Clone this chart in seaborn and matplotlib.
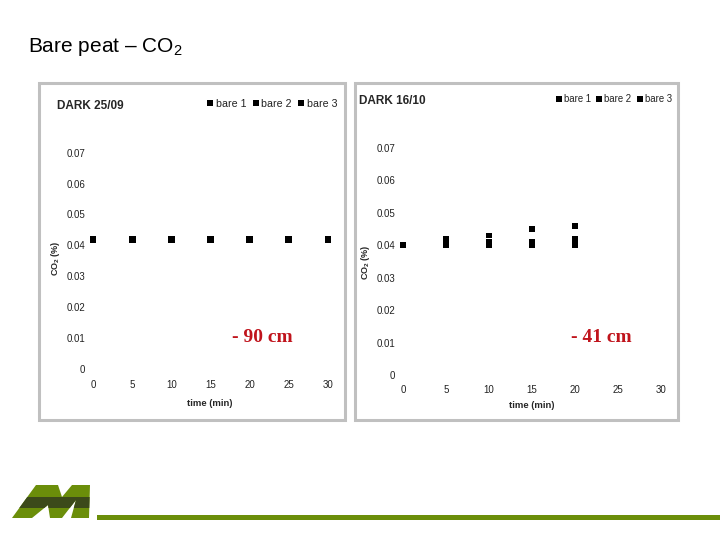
import pandas as pd
import matplotlib.pyplot as plt
import seaborn as sns
from matplotlib.patches import Rectangle, Polygon

sns.set_theme(style="white")
plt.rcParams['font.family'] = ['Liberation Sans', 'DejaVu Sans']
plt.rcParams['mathtext.fontset'] = 'custom'
plt.rcParams['mathtext.rm'] = 'Liberation Sans'

# data
series = ["bare 1", "bare 2", "bare 3"]

t_2509 = [0, 5, 10, 15, 20, 25, 30]
bare1_2509 = [0.042, 0.042, 0.042, 0.042, 0.042, 0.042, 0.042]
bare2_2509 = [0.042, 0.042, 0.042, 0.042, 0.042, 0.042, 0.042]
bare3_2509 = [0.042, 0.042, 0.042, 0.042, 0.042, 0.042, 0.042]

t_1610 = [0, 5, 10, 15, 20]
bare1_1610 = [0.040, 0.040, 0.040, 0.040, 0.040]
bare2_1610 = [0.040, 0.040, 0.041, 0.041, 0.042]
bare3_1610 = [0.040, 0.042, 0.043, 0.045, 0.046]

x_ticks = [0, 5, 10, 15, 20, 25, 30]
y_ticks = [0, 0.01, 0.02, 0.03, 0.04, 0.05, 0.06, 0.07]
y_labels = ["0", "0.01", "0.02", "0.03", "0.04", "0.05", "0.06", "0.07"]


def long_df(t, b1, b2, b3):
    rows = []
    for name, vals in zip(series, [b1, b2, b3]):
        for x, y in zip(t, vals):
            rows.append({"time": x, "co2": y, "series": name})
    return pd.DataFrame(rows)


W, H = 720, 540
fig = plt.figure(figsize=(7.2, 5.4), dpi=100)


def box(x0, y0, x1, y1):
    # pixel box (top-left origin) -> figure fraction rect
    return [x0 / W, 1 - y1 / H, (x1 - x0) / W, (y1 - y0) / H]


def fx(x):
    return x / W


def fy(y):
    return 1 - y / H


# slide title
fig.text(fx(28), fy(47), r"Bare peat – $\mathregular{CO_2}$", fontsize=15,
         va="center", ha="left", color="black")

# panel frames (behind the axes)
for (x0, y0, x1, y1) in [(39, 83, 345, 420), (355, 83, 678, 420)]:
    fig.patches.append(Rectangle((fx(x0), fy(y1)), (x1 - x0) / W, (y1 - y0) / H,
                                 transform=fig.transFigure, facecolor="white",
                                 edgecolor="#c0c0c0", lw=2.2, zorder=-1))

panels = [
    dict(df=long_df(t_2509, bare1_2509, bare2_2509, bare3_2509),
         rect=box(93, 152.7, 328, 369), title="DARK 25/09", tpos=(57, 106),
         leg=(204, 104), depth="- 90 cm", dpos=(262, 338), s=24, ylab=(55, 258),
         xlab=(210, 403), xpad=8, ypad=5.5, legfs=7.7),
    dict(df=long_df(t_1610, bare1_1610, bare2_1610, bare3_1610),
         rect=box(403, 148, 661, 375), title="DARK 16/10", tpos=(359, 101),
         leg=(553, 99), depth="- 41 cm", dpos=(601, 338), s=17, ylab=(365, 262),
         xlab=(532, 405), xpad=7, ypad=5.5, legfs=6.9),
]

for p in panels:
    ax = fig.add_axes(p["rect"])
    ax.patch.set_alpha(0)
    sns.scatterplot(data=p["df"], x="time", y="co2", hue="series",
                    palette=["black"] * 3, marker="s", s=p["s"], linewidth=0,
                    ax=ax, clip_on=False)
    ax.set_xlim(0, 30)
    ax.set_ylim(0, 0.07)
    ax.set_xticks(x_ticks)
    ax.set_xticklabels([str(v) for v in x_ticks])
    ax.set_yticks(y_ticks)
    ax.set_yticklabels(y_labels)
    ax.tick_params(axis="x", length=0, pad=p["xpad"], labelsize=7, colors="#222222")
    ax.tick_params(axis="y", length=0, pad=p["ypad"], labelsize=7, colors="#222222")
    for sp in ax.spines.values():
        sp.set_visible(False)
    ax.set_xlabel("")
    ax.set_ylabel("")

    handles, labels = ax.get_legend_handles_labels()
    for h in handles:
        h.set_markersize(4.5)
    ax.legend(handles, labels, ncol=3, frameon=False, fontsize=p["legfs"],
              loc="center left", bbox_to_anchor=(fx(p["leg"][0]), fy(p["leg"][1])),
              bbox_transform=fig.transFigure, handletextpad=-0.1,
              columnspacing=0.3, handlelength=1.2, borderaxespad=0, borderpad=0,
              labelcolor="#222222")

    fig.text(fx(p["tpos"][0]), fy(p["tpos"][1]), p["title"], fontsize=8.5,
             fontweight="bold", ha="left", va="center")
    fig.text(fx(p["ylab"][0]), fy(p["ylab"][1]), r"$\mathregular{CO_2}$ (%)",
             fontsize=6.5, fontweight="bold", rotation=90, ha="center", va="center")
    fig.text(fx(p["xlab"][0]), fy(p["xlab"][1]), "time (min)", fontsize=6.8,
             fontweight="bold", ha="center", va="center")
    fig.text(fx(p["dpos"][0]), fy(p["dpos"][1]), p["depth"], fontsize=14,
             fontweight="bold", family="Liberation Serif", color="#c0141c",
             ha="center", va="center")

# footer logo and rule
light, dark = "#6b8e0a", "#3c4a1a"
m_shape = [(12, 518), (36, 485), (58, 485), (62, 497), (72, 485), (90, 485),
           (89, 518), (71, 518), (76, 500), (62, 518), (50, 518), (48, 505),
           (32, 518)]
poly = Polygon([(fx(x), fy(y)) for x, y in m_shape], closed=True,
               transform=fig.transFigure, facecolor=light, edgecolor="none")
fig.patches.append(poly)
band = Rectangle((fx(0), fy(508)), fx(100), 11 / H, transform=fig.transFigure,
                 facecolor=dark, edgecolor="none")
fig.patches.append(band)
band.set_clip_path(poly)
fig.patches.append(Rectangle((fx(97), fy(520)), fx(623), 5 / H,
                             transform=fig.transFigure, facecolor=light,
                             edgecolor="none"))

fig.savefig("out.png", dpi=100)
